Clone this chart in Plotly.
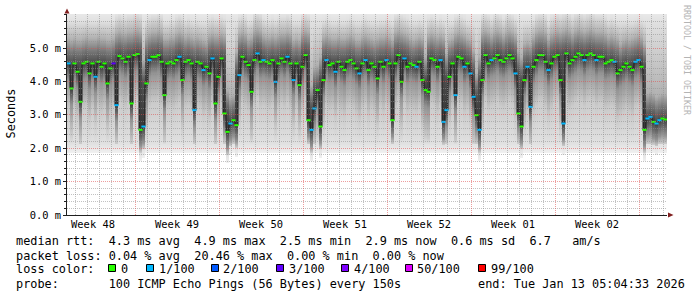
import numpy as np
import pandas as pd
import plotly.graph_objects as go

# ---------------- data ----------------
# median round-trip time per 6-hour step, in milliseconds
median_ms = [
    # Week 48 area
    4.54, 3.79, 4.54, 4.29, 3.39, 4.54, 4.59, 4.24, 4.54, 4.14, 4.59, 4.44, 4.54, 3.94, 4.39, 4.54,
    3.29, 4.76, 4.69, 4.59, 4.74, 3.34, 4.79, 4.82, 2.55, 2.65, 3.94, 4.64, 4.74, 4.74, 4.79, 4.59, 3.59,
    # Week 49 / 50
    4.54, 4.59, 4.54, 4.64, 4.74, 4.04, 4.59, 4.64, 4.54, 3.14, 4.59, 4.54, 4.34, 4.44, 4.24, 4.69,
    3.34, 4.14, 4.69, 3.04, 2.49, 2.74, 2.84, 2.69, 4.19, 4.74, 4.59, 4.49, 3.69, 4.64, 4.84, 4.59, 4.64,
    # Week 50 / 51
    4.59, 4.54, 4.64, 3.99, 4.54, 4.69, 4.59, 4.74, 4.54, 4.04, 4.54, 3.89, 4.44, 4.79, 2.84, 2.55,
    3.19, 3.74, 2.65, 4.04, 4.64, 4.49, 4.54, 4.29, 4.59, 4.44, 4.34, 4.59, 4.64, 4.54, 4.39, 4.24, 4.54,
    # Week 51 / 52
    4.64, 4.34, 4.54, 4.44, 4.09, 4.59, 4.44, 4.64, 4.54, 2.84, 4.54, 4.79, 3.99, 4.69, 4.44, 4.54,
    4.49, 4.44, 4.59, 4.04, 3.74, 3.69, 4.69, 4.64, 4.44, 4.64, 2.79, 3.14, 4.14, 4.54, 3.59, 4.74, 4.69, 4.44,
    # Week 52 / 01
    4.54, 4.24, 3.54, 2.99, 2.55, 4.04, 4.79, 4.54, 4.64, 4.69, 4.79, 4.64, 4.59, 4.69, 4.79, 4.69,
    4.24, 3.04, 2.65, 4.04, 4.44, 3.24, 4.44, 4.64, 4.79, 4.79, 4.59, 4.34, 4.54, 4.74, 4.79, 4.04, 2.74,
    # Week 02 / 03
    4.84, 4.54, 4.64, 4.74, 4.84, 4.79, 4.64, 4.79, 4.84, 4.79, 4.64, 4.74, 4.74, 4.54, 4.59, 4.64,
    4.59, 4.24, 4.34, 4.44, 4.54, 4.44, 4.34, 4.59, 4.64, 4.44, 2.55, 2.89, 2.94, 2.79, 2.74, 2.84, 2.89, 2.86,
]
# lost pings (out of 100) per step
loss_pct = [
    1, 0, 0, 0, 0, 0, 0, 0, 0, 1, 0, 0, 0, 0, 0, 3, 1, 0, 0, 0, 0, 0, 0, 0, 0, 1, 0, 1, 0, 0, 0, 0, 0,
    0, 0, 0, 0, 1, 0, 0, 0, 0, 1, 0, 0, 1, 0, 0, 1, 0, 0, 0, 0, 0, 1, 0, 0, 1, 0, 0, 0, 0, 0, 1, 0, 1,
    0, 0, 0, 1, 0, 0, 0, 1, 0, 1, 0, 0, 0, 0, 0, 1, 1, 0, 0, 0, 1, 0, 0, 1, 0, 0, 0, 0, 0, 0, 0, 1, 0,
    1, 0, 0, 0, 0, 0, 0, 1, 0, 0, 0, 0, 0, 1, 0, 0, 0, 1, 0, 0, 0, 0, 0, 0, 0, 1, 1, 1, 0, 0, 1, 0, 0, 1,
    0, 1, 1, 0, 1, 0, 0, 0, 1, 0, 0, 0, 0, 0, 0, 0, 1, 0, 0, 0, 1, 1, 0, 0, 0, 0, 0, 1, 0, 0, 0, 0, 1,
    0, 0, 0, 0, 0, 0, 1, 0, 0, 0, 1, 0, 0, 0, 0, 0, 1, 0, 0, 0, 0, 0, 0, 1, 1, 0, 0, 1, 1, 0, 1, 1, 0, 0,
]

start_time = "2025-11-24 08:00"
step_hours = 6
span_days = 50

y_tick_vals = [0, 1, 2, 3, 4, 5]
y_tick_text = ["0.0 m", "1.0 m", "2.0 m", "3.0 m", "4.0 m", "5.0 m"]
y_max = 6.02

week_labels = ["Week 48", "Week 49", "Week 50", "Week 51", "Week 52", "Week 01", "Week 02"]
week_label_times = ["2025-11-26 12:00", "2025-12-03 12:00", "2025-12-10 12:00", "2025-12-17 12:00",
                    "2025-12-24 12:00", "2025-12-31 12:00", "2026-01-07 12:00"]
week_boundaries = ["2025-11-30", "2025-12-07", "2025-12-14", "2025-12-21",
                   "2025-12-28", "2026-01-04", "2026-01-11"]

loss_levels = [0, 1, 2, 3, 4, 50, 99]
loss_colors = ["#26ff00", "#00b8ff", "#0059ff", "#5e00ff", "#7e00ff", "#dd00ff", "#ff0000"]
loss_names = ["0", "1/100", "2/100", "3/100", "4/100", "50/100", "99/100"]

legend_median = "median rtt:  4.3 ms avg  4.9 ms max  2.5 ms min  2.9 ms now  0.6 ms sd  6.7   am/s"
legend_loss = "packet loss: 0.04 % avg  20.46 % max  0.00 % min  0.00 % now"
legend_color_title = "loss color:"
legend_probe = "probe:       100 ICMP Echo Pings (56 Bytes) every 150s"
legend_end = "end: Tue Jan 13 05:04:33 2026"

# ---------------- geometry / style ----------------
W, H = 697, 297
ML, MR, MT, MB = 67, 30, 14, 82
PW, PH = W - ML - MR, H - MT - MB
MONO = "DejaVu Sans Mono"
GRID = "rgba(143,143,143,0.55)"
MGRID = "rgba(222,79,79,0.55)"
AXIS = "#1f1f1f"
ARROW = "#801f1f"


def px(xp):
    return (xp - ML) / PW


def py(yp):
    return (H - MB - yp) / PH


def nb(s):
    return s.replace(" ", "\u00a0")


med = np.array(median_ms, dtype=float)
n = len(med)
t0 = pd.Timestamp(start_time)
t_end = t0 + pd.Timedelta(days=span_days)
times = [t0 + pd.Timedelta(hours=step_hours * i + step_hours / 2) for i in range(n)]
time_str = [t.strftime("%Y-%m-%d %H:%M:%S") for t in times]
px_per_ms = PH / y_max
half_px_time = (t_end - t0) / PW / 2   # shift so dotted grid lands on pixel centres

# ---------------- smoke (distribution shading around the median) ----------------
prev_m = np.r_[med[0], med[:-1]]
next_m = np.r_[med[1:], med[-1]]
local_top = np.maximum(med, np.maximum(prev_m, next_m))
floor = np.minimum(1.86, med - 0.95)

ybins = np.arange(1.50, 6.30, 0.03)
Z = np.full((len(ybins), n), np.nan)
fs = [0, 0.04, 0.10, 0.25, 0.42, 0.5, 0.57, 0.67, 0.83, 0.96, 1.0]
for i in range(n):
    m = med[i]
    b = max(local_top[i], m + 0.05)
    lo = floor[i]
    xs = [lo, lo + 0.25, m - 1.4, m - 0.5, m - 0.12, m, b, b + 0.3, b + 0.7,
          max(b + 1.2, 5.8), max(b + 1.6, 6.25)]
    for k in range(1, len(xs)):
        xs[k] = max(xs[k], xs[k - 1] + 0.01)
    F = np.interp(ybins, xs, fs)
    grey = 240 - 185 * 2 * np.minimum(F, 1 - F)
    inside = (ybins >= xs[0]) & (ybins <= xs[-1])
    Z[inside, i] = grey[inside]

fig = go.Figure()
fig.add_trace(go.Heatmap(
    x=time_str, y=ybins, z=Z, zmin=0, zmax=255,
    colorscale=[[0, "rgb(0,0,0)"], [1, "rgb(255,255,255)"]],
    showscale=False, hoverinfo="skip"))

fig.add_trace(go.Scatter(
    x=time_str, y=med, mode="lines",
    line=dict(color="#1a1a1a", width=1, shape="hvh"), hoverinfo="skip"))


def loss_color(v):
    c = loss_colors[0]
    for lev, col in zip(loss_levels, loss_colors):
        if v >= lev:
            c = col
    return c


pt_colors = [loss_color(v) for v in loss_pct]
fig.add_trace(go.Scatter(
    x=time_str, y=med, mode="markers",
    marker=dict(symbol="line-ew", size=3, line=dict(color=pt_colors, width=2)),
    hoverinfo="skip"))

# ---------------- grid (drawn above the smoke like rrdtool) ----------------
shapes = []


def crisp_y(v):
    r = np.floor(PH - v * px_per_ms)
    return (PH - (r + 0.5)) / px_per_ms


minor_y = [round(v, 1) for v in np.arange(0.2, 6.0, 0.2) if abs(v - round(v)) > 1e-6]
for v in minor_y:
    yy = crisp_y(v)
    shapes.append(dict(type="line", xref="paper", yref="y", x0=0, x1=1, y0=yy, y1=yy,
                       line=dict(color=GRID, width=1, dash="1px,1px"), layer="above"))
for v in y_tick_vals[1:]:
    yy = crisp_y(v)
    shapes.append(dict(type="line", xref="paper", yref="y", x0=0, x1=1, y0=yy, y1=yy,
                       line=dict(color=MGRID, width=1, dash="1px,1px"), layer="above"))
days = pd.date_range(t0.normalize() + pd.Timedelta(days=1), t_end, freq="D")
wb = set(pd.to_datetime(week_boundaries))
for d in days:
    if d in wb:
        continue
    s = (d + half_px_time).strftime("%Y-%m-%d %H:%M:%S")
    shapes.append(dict(type="line", xref="x", yref="paper", x0=s, x1=s, y0=0, y1=1,
                       line=dict(color=GRID, width=1, dash="1px,1px"), layer="above"))
for w in week_boundaries:
    s = (pd.Timestamp(w) + half_px_time).strftime("%Y-%m-%d %H:%M:%S")
    shapes.append(dict(type="line", xref="x", yref="paper", x0=s, x1=s, y0=0, y1=1,
                       line=dict(color=MGRID, width=1, dash="1px,1px"), layer="above"))

# axis arrows
shapes.append(dict(type="path", xref="paper", yref="paper", layer="above",
                   path=f"M {px(67)} {py(8.5)} L {px(64.5)} {py(13.5)} L {px(69.5)} {py(13.5)} Z",
                   fillcolor=ARROW, line=dict(color=ARROW, width=0)))
shapes.append(dict(type="path", xref="paper", yref="paper", layer="above",
                   path=f"M {px(673.5)} {py(215)} L {px(668)} {py(212.5)} L {px(668)} {py(217.5)} Z",
                   fillcolor=ARROW, line=dict(color=ARROW, width=0)))

# ---------------- legend / texts ----------------
ann = []
LF = dict(family=MONO, size=11.85, color="#000000")


def text_at(x, y, s, font, xanchor="left", angle=0):
    ann.append(dict(xref="paper", yref="paper", x=px(x), y=py(y), text=nb(s),
                    showarrow=False, xanchor=xanchor, yanchor="middle",
                    font=font, textangle=angle, borderpad=0, borderwidth=0))


text_at(16, 241, legend_median, LF)
text_at(16, 255.5, legend_loss, LF)
text_at(16, 268.5, legend_color_title, LF)
text_at(16, 283.5, legend_probe, LF)
text_at(478, 283.5, legend_end, LF)

box_x = [108, 146, 211, 276, 341, 405, 478]
for bx, col, name in zip(box_x, loss_colors, loss_names):
    shapes.append(dict(type="rect", xref="paper", yref="paper",
                       x0=px(bx + 0.5), x1=px(bx + 7.5), y0=py(271.5), y1=py(264.5),
                       fillcolor=col, line=dict(color="#000000", width=1), layer="above"))
    text_at(bx + 12.5, 268.5, name, LF)

text_at(10, 113.5, "Seconds", dict(family=MONO, size=11.85, color="#000000"),
        xanchor="center", angle=-90)
text_at(687, 60, "RRDTOOL / TOBI OETIKER", dict(family=MONO, size=8.3, color="#b4b4b4"),
        xanchor="center", angle=90)

fig.update_layout(
    width=W, height=H, autosize=False,
    margin=dict(l=ML, r=MR, t=MT, b=MB, pad=0),
    paper_bgcolor="#ffffff", plot_bgcolor="#ffffff",
    showlegend=False, shapes=shapes, annotations=ann,
    xaxis=dict(type="date", range=[t0.strftime("%Y-%m-%d %H:%M"), t_end.strftime("%Y-%m-%d %H:%M")],
               showgrid=False, zeroline=False, showline=True, linecolor=AXIS, linewidth=1,
               tickvals=week_label_times, ticktext=week_labels, ticks="",
               tickfont=dict(family=MONO, size=10.4, color="#000000"), layer="above traces",
               fixedrange=True),
    yaxis=dict(range=[0, y_max], showgrid=False, zeroline=False, showline=True,
               linecolor=AXIS, linewidth=1, ticks="outside", ticklen=3, tickcolor=AXIS,
               tickvals=y_tick_vals, ticktext=y_tick_text,
               tickfont=dict(family=MONO, size=10.4, color="#000000"),
               minor=dict(dtick=0.2, ticks="outside", ticklen=2, tickcolor=AXIS, showgrid=False),
               layer="above traces", fixedrange=True),
)

fig.write_html("out.html", config={"displayModeBar": False})
